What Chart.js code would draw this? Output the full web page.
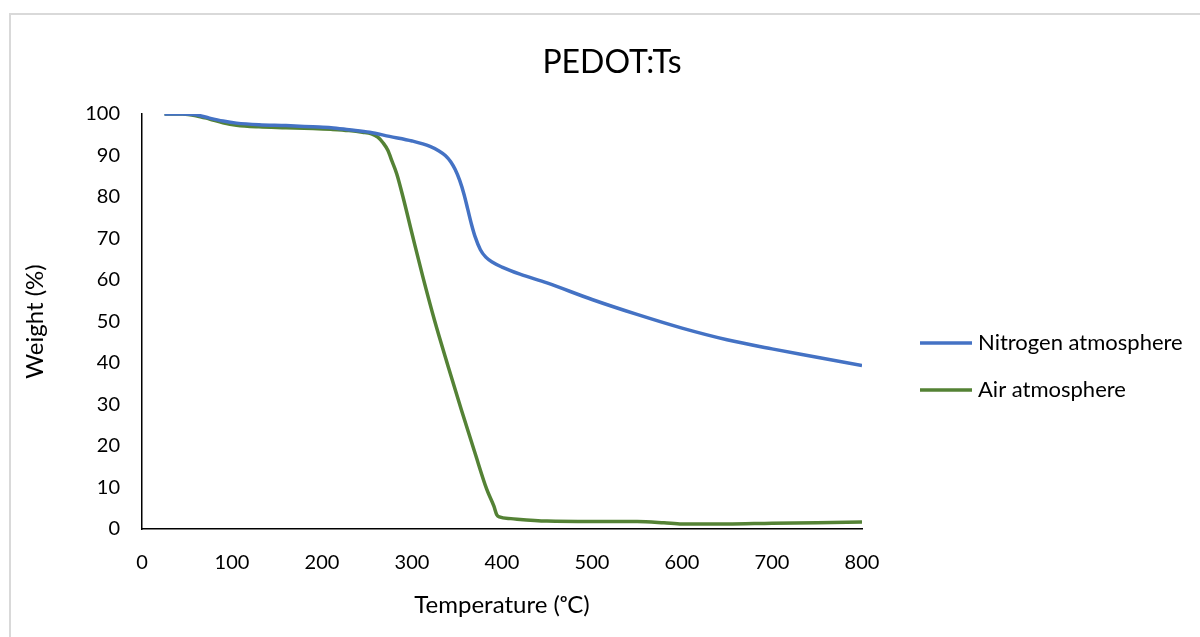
<!DOCTYPE html>
<html>
<head>
<meta charset="utf-8">
<script src="https://cdn.jsdelivr.net/npm/chart.js@4"></script>
<style>
  html, body { margin: 0; padding: 0; background: #fff; overflow: hidden; }
  #frame { position: absolute; left: 9px; top: 13px; width: 1202px; height: 700px; border: 2px solid #d9d9d9; }
  #myChart { position: absolute; left: 0; top: 0; }
</style>
</head>
<body>
<div id="frame"><canvas id="myChart" width="1202" height="622"></canvas></div>
<script>
// TGA curves, temperature in oC and weight in %
var tempN = [25, 45, 60, 75, 90, 105, 130, 160, 190, 210, 230, 253, 275, 300, 320, 330, 337, 343, 348, 353, 358, 362, 366, 370, 376, 382, 390, 400, 420, 450, 500, 550, 600, 650, 700, 750, 800];
var weightN = [100, 100, 99.8, 99, 98.3, 97.8, 97.4, 97.2, 96.9, 96.7, 96.2, 95.6, 94.6, 93.5, 92.2, 91.1, 90, 88.5, 86.6, 84, 80.5, 77, 73.5, 70.5, 67.3, 65.5, 64.2, 63.1, 61.4, 59.3, 55.3, 51.7, 48.4, 45.6, 43.4, 41.4, 39.4];

var tempA = [25, 45, 60, 75, 90, 105, 130, 160, 190, 210, 230, 245, 255, 262, 268, 273, 278, 283, 290, 300, 312, 325, 340, 355, 370, 383, 391, 394, 397, 410, 450, 500, 550, 580, 600, 650, 700, 750, 800];
var weightA = [100, 100, 99.6, 98.8, 97.9, 97.3, 96.9, 96.7, 96.5, 96.3, 96, 95.6, 95.2, 94.4, 93, 91.3, 88.5, 85.6, 80, 71.2, 60.8, 50.3, 39.3, 28.6, 18.3, 9.6, 5.5, 3.5, 2.9, 2.5, 1.9, 1.8, 1.8, 1.5, 1.2, 1.2, 1.4, 1.5, 1.7];

var xTicks = [0, 100, 200, 300, 400, 500, 600, 700, 800];
var yTicks = [0, 10, 20, 30, 40, 50, 60, 70, 80, 90, 100];

function pts(xs, ys) {
	return xs.map(function (x, i) { return { x: x, y: ys[i] }; });
}

// legend on the right, lines + text
var sideLegend = {
	id: 'sideLegend',
	afterDraw: function (chart) {
		var ctx = chart.ctx;
		var x0 = chart.chartArea.right + 58;
		var y0 = chart.chartArea.top + 229;
		ctx.save();
		ctx.font = '22px Lato';
		ctx.textBaseline = 'middle';
		chart.data.datasets.forEach(function (ds, i) {
			var y = y0 + i * 47;
			ctx.strokeStyle = ds.borderColor;
			ctx.lineWidth = 3.5;
			ctx.beginPath();
			ctx.moveTo(x0, y);
			ctx.lineTo(x0 + 52, y);
			ctx.stroke();
			ctx.fillStyle = '#000';
			ctx.fillText(ds.label, x0 + 58, y);
		});
		ctx.restore();
	}
};

var ctx = document.getElementById('myChart').getContext('2d');
var chart = new Chart(ctx, {
	type: 'scatter',
	data: {
		datasets: [{
			label: 'Nitrogen atmosphere',
			data: pts(tempN, weightN),
			showLine: true,
			borderColor: '#4472C4',
			borderWidth: 3.5,
			pointRadius: 0,
			cubicInterpolationMode: 'monotone'
		}, {
			label: 'Air atmosphere',
			data: pts(tempA, weightA),
			showLine: true,
			borderColor: '#548235',
			borderWidth: 3.5,
			pointRadius: 0,
			cubicInterpolationMode: 'monotone'
		}]
	},
	options: {
		responsive: false,
		animation: false,
		layout: { padding: 0 },
		plugins: {
			legend: { display: false },
			tooltip: { enabled: false },
			title: {
				display: true,
				text: 'PEDOT:Ts',
				color: '#000',
				font: { family: 'Lato', size: 32, weight: 'normal' },
				padding: { top: 28, bottom: 32.6 }
			}
		},
		scales: {
			x: {
				type: 'linear',
				min: 0,
				max: 800,
				afterBuildTicks: function (s) { s.ticks = xTicks.map(function (v) { return { value: v }; }); },
				afterFit: function (s) { s.height = 108; },
				grid: { display: false, drawTicks: false },
				border: { display: true, color: '#000', width: 1.5 },
				ticks: { color: '#000', padding: 22, font: { family: 'Lato', size: 20 } },
				title: {
					display: true,
					text: 'Temperature (ᵒC)',
					color: '#000',
					font: { family: 'Lato', size: 24 },
					padding: { top: 0, bottom: 17.6 }
				}
			},
			y: {
				min: 0,
				max: 100,
				afterBuildTicks: function (s) { s.ticks = yTicks.map(function (v) { return { value: v }; }); },
				afterFit: function (s) { s.width = 131; },
				grid: { display: false, drawTicks: false },
				border: { display: true, color: '#000', width: 1.5 },
				ticks: { color: '#000', padding: 22, font: { family: 'Lato', size: 20 } },
				title: {
					display: true,
					text: 'Weight (%)',
					color: '#000',
					font: { family: 'Lato', size: 24 },
					padding: { top: 9.6, bottom: 0 }
				}
			},
			// empty axis keeping room for the legend on the right
			side: {
				type: 'linear',
				position: 'right',
				display: true,
				afterFit: function (s) { s.width = 351; },
				grid: { display: false },
				border: { display: false },
				ticks: { display: false }
			}
		}
	},
	plugins: [sideLegend]
});
</script>
</body>
</html>
